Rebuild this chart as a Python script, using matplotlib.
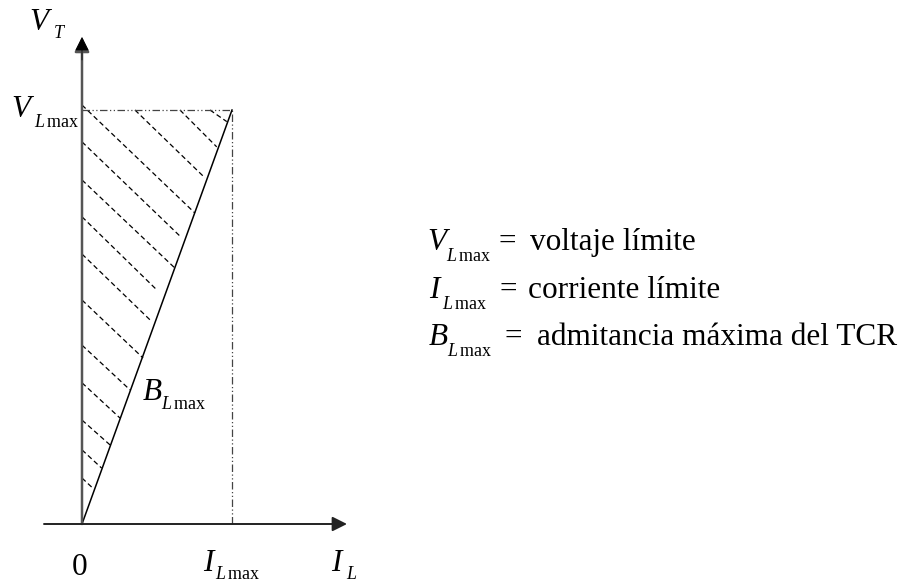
import matplotlib
matplotlib.use("Agg")
import matplotlib.pyplot as plt

plt.rcParams['font.family'] = ['Liberation Serif', 'DejaVu Serif']
plt.rcParams['mathtext.fontset'] = 'custom'
plt.rcParams['mathtext.rm'] = 'Liberation Serif'
plt.rcParams['mathtext.it'] = 'Liberation Serif:italic'
plt.rcParams['mathtext.bf'] = 'Liberation Serif:bold'

# limits (normalised): I_Lmax = 1, V_Lmax = 1
i_lmax = 1.0
v_lmax = 1.0

# B_Lmax characteristic
b_x = [0.0, 1.0]
b_y = [0.0, 1.0]

# hatch segments (start -> end)
hs_x = [0.853, 0.653, 0.353, 0.0, 0.0, 0.0, 0.0, 0.0, 0.0, 0.0, 0.0, 0.0, 0.0, 0.0]
hs_y = [1.0, 1.0, 1.0, 1.012, 0.923, 0.831, 0.742, 0.652, 0.541, 0.432, 0.341, 0.251, 0.179, 0.111]
he_x = [0.965, 0.898, 0.82, 0.753, 0.66, 0.62, 0.5, 0.465, 0.407, 0.32, 0.253, 0.187, 0.131, 0.071]
he_y = [0.972, 0.911, 0.836, 0.751, 0.693, 0.618, 0.565, 0.489, 0.401, 0.324, 0.256, 0.191, 0.135, 0.087]

legend_sym = ['V', 'I', 'B']
legend_txt = ['voltaje límite', 'corriente límite', 'admitancia máxima del TCR']

# pixel -> data helpers (origin at pixel 82,524 ; 150 px per unit x, 414 px per unit y)
X0, Y0, SX, SY = 82, 524, 150.0, 414.0
def px(x, y):
    return ((x - X0) / SX, (Y0 - y) / SY)

fig = plt.figure(figsize=(9.07, 5.82), dpi=100)
ax = fig.add_axes([0, 0, 1, 1])
ax.set_xlim(px(0, 0)[0], px(907, 0)[0])
ax.set_ylim(px(0, 582)[1], px(0, 0)[1])
ax.axis('off')

fs = 22.5
fsub = 13

def sym(x, y, main, sub, xs, ys):
    # main italic letter + dropped subscript
    ax.text(*px(x, y), '$' + main + '$', fontsize=fs, ha='left', va='baseline')
    ax.text(*px(xs, ys), sub, fontsize=fsub, ha='left', va='baseline')

LMAX = r'$L\,\mathrm{max}$'

# hatch
for i in range(len(hs_x)):
    ax.plot([hs_x[i], he_x[i]], [hs_y[i], he_y[i]], color='black', lw=0.9,
            dashes=(4, 2.5))

# limit lines (dash-dot)
ax.plot([0, i_lmax], [v_lmax, v_lmax], color='#444444', lw=0.9, dashes=(6, 2, 1, 2, 1, 2))
ax.plot([i_lmax, i_lmax], [0, v_lmax], color='#444444', lw=0.9, dashes=(6, 2, 1, 2, 1, 2))

# B line
ax.plot(b_x, b_y, color='black', lw=1.1)

# axes arrows
ax.annotate('', xy=(0, px(0, 37)[1]), xytext=(0, 0),
            arrowprops=dict(arrowstyle='-|>', color='#555555', lw=1.8,
                            mutation_scale=22, shrinkA=0, shrinkB=0))
ax.annotate('', xy=(0, px(0, 37)[1]), xytext=(0, px(0, 60)[1]),
            arrowprops=dict(arrowstyle='-|>', color='black', lw=0.5,
                            mutation_scale=22, shrinkA=0, shrinkB=0))
ax.annotate('', xy=(px(347, 0)[0], 0), xytext=(px(44, 0)[0], 0),
            arrowprops=dict(arrowstyle='-|>', color='#222222', lw=1.4,
                            mutation_scale=22, shrinkA=0, shrinkB=0))

# axis labels
sym(29, 30, 'V', r'$T$', 53, 38)
sym(11, 117, 'V', LMAX, 34, 127)
ax.text(*px(80, 575), '0', fontsize=fs, ha='center', va='baseline')
sym(203, 571, 'I', LMAX, 215, 579)
sym(331, 571, 'I', r'$L$', 346, 579)
sym(142, 400, 'B', LMAX, 161, 409)

# legend block
rows_y = [250, 298, 345]
main_x = [427, 429, 428]
sub_x = [446, 442, 447]
eq_x = [507, 508, 513]
txt_x = [530, 528, 537]
for i in range(3):
    y = rows_y[i]
    sym(main_x[i], y, legend_sym[i], LMAX, sub_x[i], y + 11)
    ax.text(*px(eq_x[i], y), '=', fontsize=fs, ha='center', va='baseline')
    ax.text(*px(txt_x[i], y), legend_txt[i], fontsize=fs, ha='left', va='baseline')

fig.savefig('out.png', dpi=100)
